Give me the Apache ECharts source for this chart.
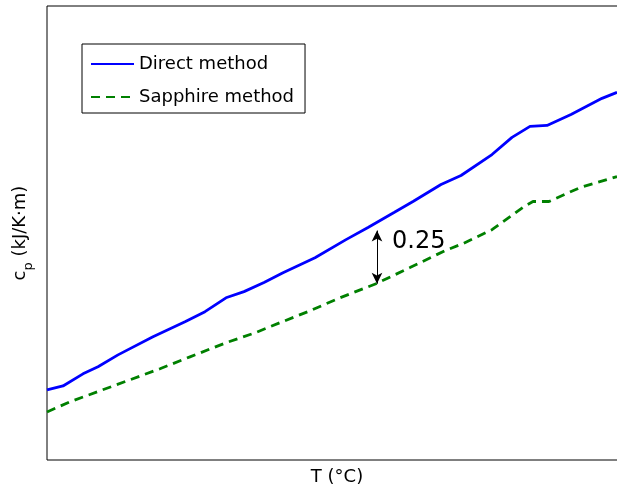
<!DOCTYPE html>
<html>
<head>
<meta charset="utf-8">
<script src="https://cdn.jsdelivr.net/npm/echarts@6/dist/echarts.min.js"></script>
<style>html,body{margin:0;padding:0;background:#fff;overflow:hidden;}#c{width:640px;height:492px;}</style>
</head>
<body>
<div id="c"></div>
<script>
// Temperature (arbitrary °C scale) and cp values
const directT  = [30, 38, 48, 55.5, 65.5, 83, 99, 109, 119.5, 128.5, 138.5, 148, 164, 179.5, 190.5, 203.5, 213, 227, 237, 252.5, 262.5, 271.5, 280, 292, 307.5, 315];
const directCp = [1.318, 1.336, 1.391, 1.423, 1.477, 1.559, 1.627, 1.673, 1.736, 1.764, 1.805, 1.850, 1.918, 2.000, 2.055, 2.123, 2.173, 2.250, 2.291, 2.386, 2.464, 2.514, 2.518, 2.568, 2.641, 2.668];
const sapphT   = [30, 41.5, 56.5, 71.5, 86.5, 101.5, 119.5, 134, 146.5, 161.5, 176.5, 194.5, 211.5, 229, 238, 252.5, 268.5, 273, 281, 296.5, 315];
const sapphCp  = [1.218, 1.264, 1.314, 1.364, 1.414, 1.468, 1.532, 1.577, 1.623, 1.677, 1.736, 1.800, 1.873, 1.950, 1.982, 2.045, 2.150, 2.173, 2.173, 2.236, 2.286];
const seriesNames = ['Direct method', 'Sapphire method'];
const arrowT = 195;
const arrowTop = 2.041;
const arrowBottom = 1.800;
const diffLabel = '0.25';
const labelT = 202.5;
const labelCp = 1.99;

const font = 'DejaVu Sans';
const chart = echarts.init(document.getElementById('c'), null, {renderer: 'canvas'});
chart.setOption({
  animation: false,
  backgroundColor: '#fff',
  textStyle: {fontFamily: font},
  grid: {left: 47, top: 6, right: 13, bottom: 32, show: true, borderColor: '#000', borderWidth: 1},
  legend: {
    orient: 'vertical', left: 82, top: 44,
    padding: [11, 11, 7, 8], itemGap: 15, itemWidth: 43, itemHeight: 1,
    borderColor: '#000', borderWidth: 1, backgroundColor: '#fff',
    textStyle: {fontFamily: font, fontSize: 18, color: '#000'},
    data: seriesNames
  },
  xAxis: {
    type: 'value', min: 30, max: 320,
    name: 'T (°C)', nameLocation: 'middle', nameGap: 8,
    nameTextStyle: {fontFamily: font, fontSize: 18, color: '#000', verticalAlign: 'top'},
    axisLine: {show: false}, axisTick: {show: false}, axisLabel: {show: false}, splitLine: {show: false}
  },
  yAxis: {
    type: 'value', min: 1, max: 3.06,
    name: '{a|c}{b|p}{a| (kJ/K·m)}', nameLocation: 'middle', nameGap: 12,
    nameTextStyle: {
      color: '#000',
      rich: {
        a: {fontFamily: font, fontSize: 18, color: '#000', lineHeight: 30, verticalAlign: 'middle'},
        b: {fontFamily: font, fontSize: 13, color: '#000', lineHeight: 30, verticalAlign: 'bottom'}
      }
    },
    axisLine: {show: false}, axisTick: {show: false}, axisLabel: {show: false}, splitLine: {show: false}
  },
  series: [
    {
      name: seriesNames[0], type: 'line', symbol: 'none',
      data: directT.map((t, i) => [t, directCp[i]]),
      lineStyle: {color: '#0000ff', width: 2.8},
      itemStyle: {color: '#0000ff'},
      markLine: {
        silent: true, symbol: ['arrow', 'arrow'], symbolSize: [8, 11],
        lineStyle: {color: '#000', width: 1, type: 'solid'},
        label: {show: false},
        data: [[{coord: [arrowT, arrowTop]}, {coord: [arrowT, arrowBottom]}]]
      },
      markPoint: {
        silent: true, symbol: 'circle', symbolSize: 0,
        label: {show: true, position: 'right', distance: 0, formatter: diffLabel, fontFamily: font, fontSize: 24, color: '#000'},
        data: [{coord: [labelT, labelCp]}]
      }
    },
    {
      name: seriesNames[1], type: 'line', symbol: 'none',
      data: sapphT.map((t, i) => [t, sapphCp[i]]),
      lineStyle: {color: '#008000', width: 2.8, type: [9, 6]},
      itemStyle: {color: '#008000'}
    }
  ]
});
</script>
</body>
</html>
